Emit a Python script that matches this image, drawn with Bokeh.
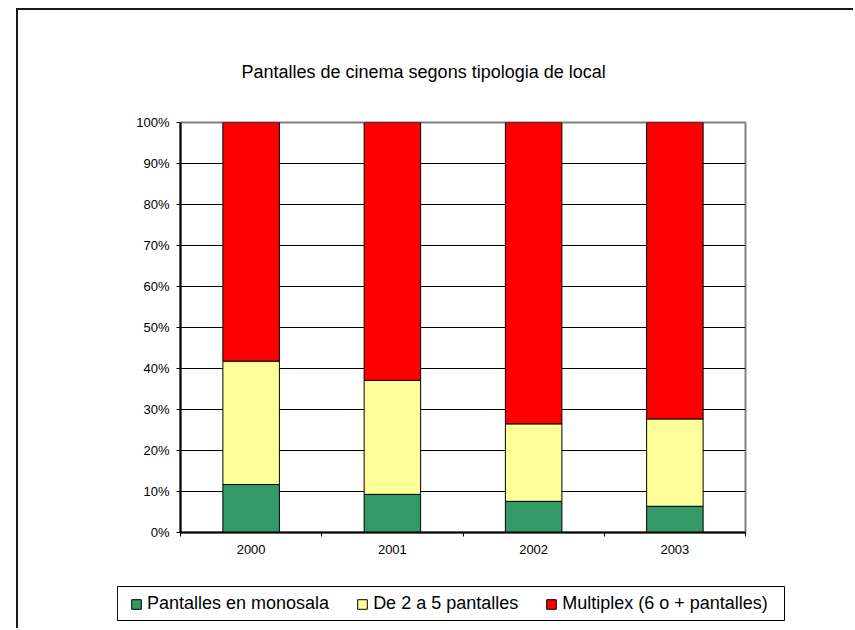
from bokeh.plotting import figure
from bokeh.models import (ColumnDataSource, FixedTicker, Legend, LegendItem,
                          Range1d, PrintfTickFormatter)
from bokeh.embed import file_html
from bokeh.resources import INLINE

# ---- data ----
years = ["2000", "2001", "2002", "2003"]
monosala = [11.7, 9.3, 7.6, 6.4]
de2a5 = [30.1, 27.8, 18.9, 21.3]
multiplex = [58.2, 62.9, 73.5, 72.3]
series_names = ["Pantalles en monosala", "De 2 a 5 pantalles", "Multiplex (6 o + pantalles)"]
series_colors = ["#339966", "#FFFF99", "#FF0000"]
y_ticks = [0, 10, 20, 30, 40, 50, 60, 70, 80, 90, 100]
title_text = "Pantalles de cinema segons tipologia de local"

FONT = "Liberation Sans"

xpos = [i + 0.5 for i in range(len(years))]
source = ColumnDataSource(dict(x=xpos, monosala=monosala, de2a5=de2a5, multiplex=multiplex))

p = figure(width=837, height=560, output_backend="svg", toolbar_location=None,
           x_range=Range1d(0, len(years)), y_range=Range1d(0, 100),
           min_border_left=162, min_border_right=110, min_border_top=112,
           min_border_bottom=38)
p.styles = {"margin-left": "16px", "margin-top": "8px",
            "border-left": "2px solid #1a1a1a", "border-top": "2px solid #1a1a1a"}
p.background_fill_color = "white"
p.border_fill_color = "white"
p.outline_line_color = "#808080"
p.outline_line_width = 2

renderers = p.vbar_stack(["monosala", "de2a5", "multiplex"], x="x", width=0.4,
                         source=source, color=series_colors,
                         line_color="black", line_width=1)
for r, c in zip(renderers, series_colors):
    r.glyph.fill_color = c
    r.glyph.line_color = "black"

# title
p.title.text = title_text
p.title.text_font = FONT
p.title.text_font_size = "18px"
p.title.text_font_style = "normal"
p.title.text_color = "black"
p.title.align = "left"
p.title.offset = 61
p.title.standoff = 81

# x axis
xa = p.xaxis[0]
xa.ticker = FixedTicker(ticks=xpos, minor_ticks=list(range(len(years) + 1)))
xa.major_label_overrides = {x: y for x, y in zip(xpos, years)}
xa.major_tick_line_color = None
xa.major_tick_out = 4
xa.major_tick_in = 0
xa.minor_tick_line_color = "black"
xa.minor_tick_out = 4
xa.minor_tick_in = 0
xa.major_label_standoff = 8
xa.major_label_text_font = FONT
xa.major_label_text_font_size = "13px"
xa.major_label_text_color = "black"
xa.axis_line_color = "black"
xa.axis_line_width = 2

# y axis
ya = p.yaxis[0]
ya.ticker = FixedTicker(ticks=y_ticks, minor_ticks=[])
ya.formatter = PrintfTickFormatter(format="%d%%")
ya.major_tick_out = 4
ya.major_tick_in = 0
ya.major_tick_line_color = "black"
ya.minor_tick_line_color = None
ya.major_label_standoff = 7
ya.major_label_text_font = FONT
ya.major_label_text_font_size = "13px"
ya.major_label_text_color = "black"
ya.axis_line_color = "black"
ya.axis_line_width = 2

p.xgrid.grid_line_color = None
p.ygrid.ticker = FixedTicker(ticks=y_ticks[1:-1])
p.ygrid.grid_line_color = "black"
p.ygrid.grid_line_width = 1

# legend panel (own small figure; its frame outline is the legend box)
lf = figure(width=837, height=60, output_backend="svg", toolbar_location=None,
            x_range=Range1d(0, 1), y_range=Range1d(0, 1),
            x_axis_type=None, y_axis_type=None,
            min_border_left=99, min_border_right=71, min_border_top=18,
            min_border_bottom=8)
lf.styles = {"margin-left": "16px", "border-left": "2px solid #1a1a1a"}
lf.outline_line_color = "black"
lf.outline_line_width = 1
lf.background_fill_color = "white"
lf.border_fill_color = "white"
lf.xgrid.visible = False
lf.ygrid.visible = False
# swatch renderers sit outside the visible range; only their legend glyphs show
swatches = [lf.vbar(x=[-5], top=[1], width=0.1, fill_color=c, line_color="black")
            for c in series_colors]
items = [LegendItem(label=n, renderers=[r]) for n, r in zip(series_names, swatches)]
legend = Legend(items=items, location=(13, 6), orientation="horizontal",
                label_text_font=FONT, label_text_font_size="18px",
                label_text_color="black",
                glyph_width=12, glyph_height=12, padding=0, spacing=27,
                label_standoff=5, border_line_color=None,
                background_fill_alpha=0)
lf.add_layout(legend, "center")

open("out.html", "w").write(file_html([p, lf], INLINE))
